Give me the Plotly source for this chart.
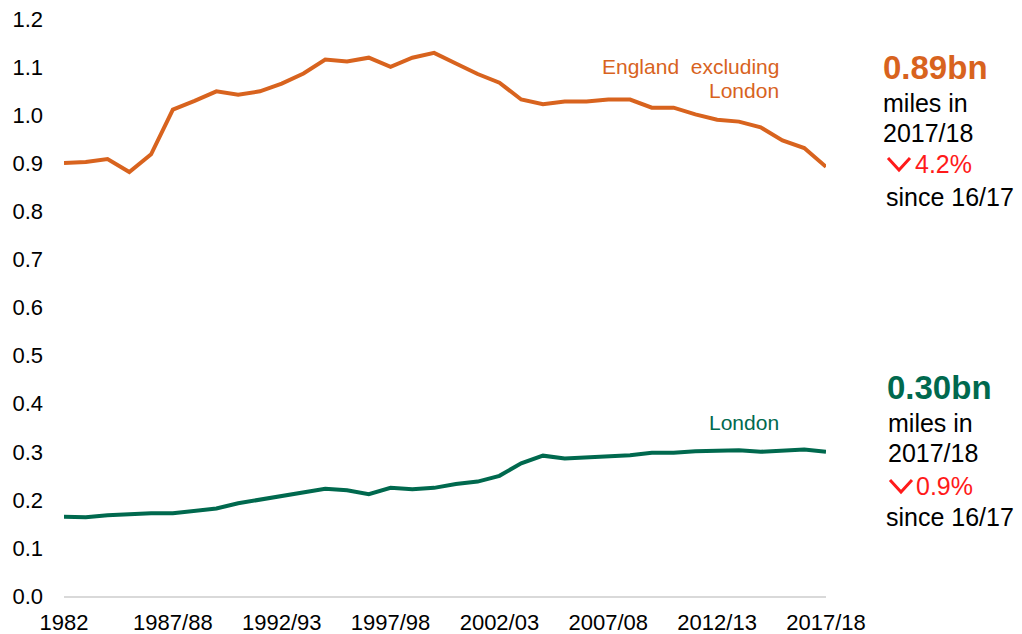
import plotly.graph_objects as go

years = ["1982", "1983", "1984", "1985", "1986", "1987/88", "1988/89", "1989/90",
         "1990/91", "1991/92", "1992/93", "1993/94", "1994/95", "1995/96", "1996/97",
         "1997/98", "1998/99", "1999/00", "2000/01", "2001/02", "2002/03", "2003/04",
         "2004/05", "2005/06", "2006/07", "2007/08", "2008/09", "2009/10", "2010/11",
         "2011/12", "2012/13", "2013/14", "2014/15", "2015/16", "2016/17", "2017/18"]

england_excl_london = [0.901, 0.903, 0.909, 0.882, 0.919, 1.012, 1.030, 1.050, 1.043, 1.050,
                       1.066, 1.087, 1.116, 1.112, 1.120, 1.101, 1.120, 1.130, 1.108, 1.086,
                       1.068, 1.033, 1.023, 1.029, 1.029, 1.033, 1.033, 1.016, 1.016, 1.002,
                       0.991, 0.987, 0.975, 0.948, 0.932, 0.893]

london = [0.165, 0.164, 0.168, 0.171, 0.172, 0.172, 0.177, 0.182, 0.193, 0.200,
          0.208, 0.215, 0.223, 0.220, 0.212, 0.225, 0.222, 0.225, 0.233, 0.238,
          0.250, 0.276, 0.292, 0.286, 0.288, 0.290, 0.293, 0.298, 0.298, 0.301,
          0.303, 0.303, 0.300, 0.303, 0.305, 0.300]

tick_labels = ["1982", "1987/88", "1992/93", "1997/98", "2002/03", "2007/08", "2012/13", "2017/18"]
y_ticks = [0.0, 0.1, 0.2, 0.3, 0.4, 0.5, 0.6, 0.7, 0.8, 0.9, 1.0, 1.1, 1.2]
y_tick_text = ["0.0", "0.1", "0.2", "0.3", "0.4", "0.5", "0.6", "0.7", "0.8", "0.9", "1.0", "1.1", "1.2"]

ORANGE = "#D8631E"
GREEN = "#00694E"
RED = "#FF1A1A"
FONT = "Liberation Sans, Arial, sans-serif"

OFF = 8  # page body margin
W, H = 1022, 634
L, T = 64 - OFF, 19 - OFF
PLOT_RIGHT, PLOT_BOTTOM = 826 - OFF, 596 - OFF
R, B = W - PLOT_RIGHT, H - PLOT_BOTTOM
PW, PH = W - L - R, H - T - B


def px(x):
    return (x - OFF - L) / PW


def py(y):
    return (H - B - (y - OFF)) / PH


fig = go.Figure()
fig.add_trace(go.Scatter(x=years, y=england_excl_london, mode="lines",
                         line=dict(color=ORANGE, width=4), name="England excluding London"))
fig.add_trace(go.Scatter(x=years, y=london, mode="lines",
                         line=dict(color=GREEN, width=4), name="London"))

ann = []


def text(x, y, s, color="black", size=25, anchor="left", bold=False):
    if bold:
        s = "<b>" + s + "</b>"
    ann.append(dict(x=px(x), y=py(y), xref="paper", yref="paper", text=s,
                    showarrow=False, xanchor=anchor, yanchor="middle",
                    font=dict(family=FONT, size=size, color=color)))


# series labels
text(781, 67, "England  excluding", ORANGE, 21, "right")
text(781, 91, "London", ORANGE, 21, "right")
text(781, 422, "London", GREEN, 21, "right")

# right-hand summary 1
text(881, 68, "0.89bn", ORANGE, 33, "left", bold=True)
text(881, 103, "miles in")
text(881, 133, "2017/18")
text(913, 164, "4.2%", RED)
text(884, 197, "since 16/17")

# right-hand summary 2
text(885, 388, "0.30bn", GREEN, 33, "left", bold=True)
text(886, 423, "miles in")
text(886, 453, "2017/18")
text(914, 486, "0.9%", RED)
text(884, 517, "since 16/17")

shapes = []
for cx, cy in [(899, 164), (901, 486)]:
    x0, x1, xm = px(cx - 11), px(cx + 11), px(cx)
    y0, ym = py(cy - 6), py(cy + 6)
    shapes.append(dict(type="path", xref="paper", yref="paper",
                       path=f"M {x0} {y0} L {xm} {ym} L {x1} {y0}",
                       line=dict(color=RED, width=3)))

fig.update_layout(
    width=W, height=H,
    margin=dict(l=L, r=R, t=T, b=B, autoexpand=False),
    plot_bgcolor="white", paper_bgcolor="white",
    showlegend=False,
    font=dict(family=FONT, size=22, color="black"),
    annotations=ann,
    shapes=shapes,
    xaxis=dict(type="category", range=[0, len(years) - 1], automargin=False,
               tickmode="array", tickvals=tick_labels, ticktext=tick_labels,
               showgrid=False, zeroline=False, showline=True,
               linecolor="#D9D9D9", linewidth=1.5, ticks="",
               ticklabelstandoff=6,
               tickfont=dict(family=FONT, size=22, color="black")),
    yaxis=dict(range=[0, 1.2005], tickmode="array", tickvals=y_ticks, ticktext=y_tick_text,
               automargin=False, ticklabeloverflow="allow",
               showgrid=False, zeroline=False, showline=False, ticks="",
               ticklabelstandoff=20,
               tickfont=dict(family=FONT, size=22, color="black")),
)

fig.write_html("out.html")
